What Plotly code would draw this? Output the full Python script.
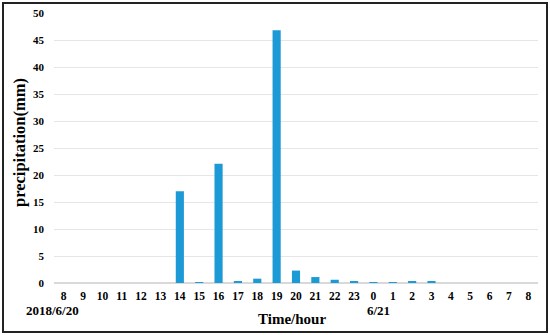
import plotly.graph_objects as go

hours = ["8","9","10","11","12","13","14","15","16","17","18","19","20","21","22","23",
         "0","1","2","3","4","5","6","7","8"]
precip = [0,0,0,0,0,0,17.0,0.1,22.1,0.3,0.8,46.8,2.3,1.1,0.6,0.2,0.1,0.1,0.2,0.2,0,0,0,0,0]
y_ticks = [0,5,10,15,20,25,30,35,40,45,50]

FONT = "Liberation Serif"
L, R, T, B = 54, 12, 13, 52
W, H = 550, 335
pw, ph = W - L - R, H - T - B

def px_x(x):
    return (x - L) / pw

def px_y(y):
    return (H - B - y) / ph

fig = go.Figure()
fig.add_trace(go.Bar(x=list(range(len(hours))), y=precip, marker=dict(color="#1b9ad6", line=dict(width=0)),
                     width=0.42, hoverinfo="skip"))

fig.update_layout(
    width=W, height=H,
    margin=dict(l=L, r=R, t=T, b=B, autoexpand=False),
    paper_bgcolor="white", plot_bgcolor="white",
    showlegend=False,
    font=dict(family=FONT, color="black"),
    xaxis=dict(
        tickmode="array", tickvals=list(range(len(hours))), ticktext=[f"<b>{h}</b>" for h in hours],
        range=[-0.5, len(hours) - 0.5], showgrid=False, zeroline=False, showline=False,
        ticks="", tickfont=dict(size=11.5, family=FONT, color="black"), ticklabelstandoff=4,
        automargin=False,
    ),
    yaxis=dict(
        range=[0, 50], tickmode="array", tickvals=y_ticks, ticktext=[f"<b>{v}</b>" for v in y_ticks],
        showgrid=True, gridcolor="#e6e6e6", gridwidth=1, zeroline=True, zerolinecolor="#d9d9d9",
        showline=False, ticks="", tickfont=dict(size=11, family=FONT, color="black"),
        ticklabelstandoff=9, automargin=False,
    ),
    shapes=[dict(type="rect", xref="paper", yref="paper",
                 x0=px_x(3), x1=px_x(547), y0=px_y(332), y1=px_y(3),
                 line=dict(color="#222222", width=2), fillcolor="rgba(0,0,0,0)", layer="above")],
    annotations=[
        dict(text="<b>precipitation(mm)</b>", xref="paper", yref="paper", x=px_x(19), y=px_y(143),
             textangle=-90, showarrow=False, font=dict(size=16.5, family=FONT),
             xanchor="center", yanchor="middle"),
        dict(text="<b>2018/6/20</b>", xref="paper", yref="paper", x=px_x(52), y=px_y(310),
             showarrow=False, font=dict(size=13, family=FONT), xanchor="center", yanchor="middle"),
        dict(text="<b>6/21</b>", xref="paper", yref="paper", x=px_x(378), y=px_y(310),
             showarrow=False, font=dict(size=13, family=FONT), xanchor="center", yanchor="middle"),
        dict(text="<b>Time/hour</b>", xref="paper", yref="paper", x=px_x(292), y=px_y(319),
             showarrow=False, font=dict(size=15, family=FONT), xanchor="center", yanchor="middle"),
    ],
)

fig.write_html("out.html", config={"displayModeBar": False},
               post_script="document.body.style.margin='0';document.body.style.overflow='hidden';")
